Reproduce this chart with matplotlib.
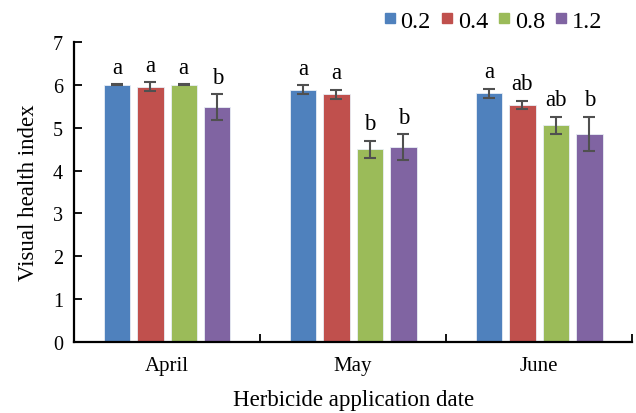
import matplotlib

matplotlib.use("Agg")
import matplotlib.pyplot as plt
from matplotlib.lines import Line2D
import numpy as np

plt.rcParams["font.family"] = ["Liberation Serif", "DejaVu Serif"]

# --- data ---
months = ["April", "May", "June"]
rates = ["0.2", "0.4", "0.8", "1.2"]
means = [
    [6.00, 5.89, 5.80],   # 0.2
    [5.96, 5.78, 5.53],   # 0.4
    [6.00, 4.50, 5.06],   # 0.8
    [5.48, 4.55, 4.86],   # 1.2
]
errs = [
    [0.01, 0.10, 0.11],
    [0.10, 0.10, 0.10],
    [0.01, 0.20, 0.20],
    [0.30, 0.30, 0.40],
]
letters = [
    ["a", "a", "a"],
    ["a", "a", "ab"],
    ["a", "b", "ab"],
    ["b", "b", "b"],
]
colors = ["#4F81BD", "#C0504D", "#9BBB59", "#8064A2"]

fig = plt.figure(figsize=(6.36, 4.14), dpi=100)
ax = fig.add_axes([0.1164, 0.1715, 0.8776, 0.7245])

x = np.arange(len(months))
width = 0.142
step = 0.18
for i, (m, e, lab, c) in enumerate(zip(means, errs, letters, colors)):
    pos = x + (i - 1.5) * step
    ax.bar(pos, m, width, color=c, edgecolor="#e8eef5", linewidth=0.6, zorder=2)
    ax.errorbar(pos, m, yerr=e, fmt="none", ecolor="#505050", elinewidth=1.5,
                capsize=4, capthick=1.5, zorder=3)
    # significance letters sit just above each error bar
    for px, mv, ev, s in zip(pos, m, e, lab):
        ax.text(px, mv + ev + 0.27, s, ha="center", va="baseline", fontsize=16.5)

ax.set_xlim(-0.5, 2.5)
ax.set_ylim(0, 7)
ax.set_yticks(range(8))
ax.set_xticks(x, months)
ax.set_xticks([0.5, 1.5, 2.5], minor=True)
ax.tick_params(axis="x", which="major", length=0, labelsize=15, pad=10)
ax.tick_params(axis="x", which="minor", direction="in", length=6, width=1.3)
ax.tick_params(axis="y", direction="in", length=6, width=1.3, labelsize=14.5, pad=8)
for side in ("top", "right"):
    ax.spines[side].set_visible(False)
for side in ("left", "bottom"):
    ax.spines[side].set_linewidth(1.6)

ax.set_ylabel("Visual health index", fontsize=16.5, labelpad=10)
ax.set_xlabel("Herbicide application date", fontsize=16.5, labelpad=10)

handles = [Line2D([], [], marker="s", linestyle="none", markersize=6.8,
                  markerfacecolor=c, markeredgecolor=c) for c in colors]
fig.legend(handles, rates, loc="center right", bbox_to_anchor=(602 / 636, 1 - 21.5 / 414),
           bbox_transform=fig.transFigure, ncol=4, frameon=False, fontsize=17.5,
           handlelength=0.4, handletextpad=0.25, columnspacing=0.45,
           borderpad=0, borderaxespad=0)

fig.savefig("out.png", dpi=100)
